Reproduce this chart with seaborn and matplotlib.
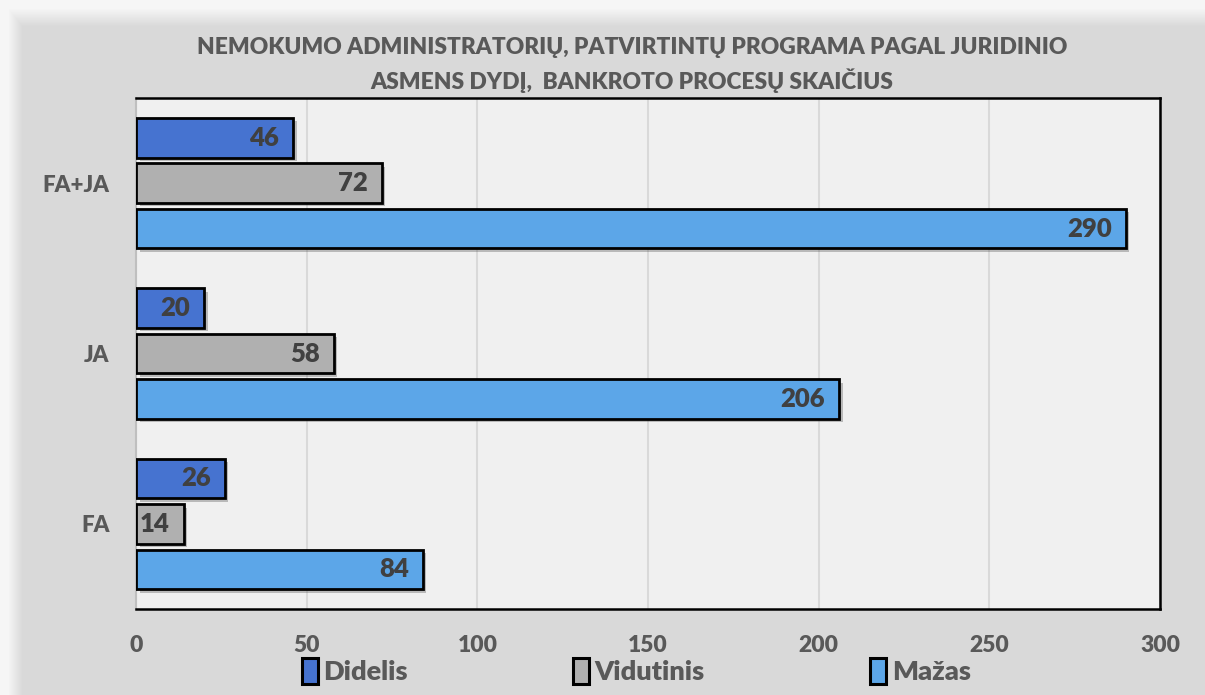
import numpy as np
import pandas as pd
import matplotlib
matplotlib.use("Agg")
import matplotlib.pyplot as plt
import matplotlib.patheffects as pe
from matplotlib.patches import Rectangle
import seaborn as sns

# ---- data ----
categories = ["FA+JA", "JA", "FA"]
series_names = ["Didelis", "Vidutinis", "Mažas"]
didelis = [46, 20, 26]
vidutinis = [72, 58, 14]
mazas = [290, 206, 84]
x_ticks = [0, 50, 100, 150, 200, 250, 300]
title = "NEMOKUMO ADMINISTRATORIŲ, PATVIRTINTŲ PROGRAMA PAGAL JURIDINIO\nASMENS DYDĮ,  BANKROTO PROCESŲ SKAIČIUS"

colors = ["#4673d0", "#b0b0b0", "#5ca6e8"]
text_gray = "#595959"
label_gray = "#404040"
W_HEAVY = "heavy"
FAM = ["Lato", "DejaVu Sans"]

df = pd.DataFrame({
    "cat": categories * 3,
    "series": [s for s in series_names for _ in categories],
    "value": didelis + vidutinis + mazas,
})

sns.set_theme(style="white")
plt.rcParams["font.family"] = FAM
plt.rcParams["font.weight"] = "bold"

fig = plt.figure(figsize=(12.05, 6.95), dpi=100)
fig.patch.set_facecolor("#d9d9d9")

# soft frame background
bg = fig.add_axes([0, 0, 1, 1], zorder=-10)
H, W = 695, 1205
yy, xx = np.mgrid[0:H, 0:W]
def fade(d, start, width):
    return np.clip((d - start) / width, 0, 1)
m = np.minimum(fade(yy, 8, 18), fade(xx, 8, 14))
img = 0.965 + (0.851 - 0.965) * m
bg.imshow(np.dstack([img, img, img]), extent=[0, W, H, 0], aspect="auto")
bg.set_xlim(0, W); bg.set_ylim(H, 0)
bg.axis("off")

ax = fig.add_axes([0.1129, 0.1237, 0.8498, 0.7353])
ax.set_facecolor("#f0f0f0")

sns.barplot(data=df, y="cat", x="value", hue="series", order=categories,
            hue_order=series_names, palette=colors, saturation=1, orient="h",
            width=0.8, gap=0.13, edgecolor="black", linewidth=2,
            ax=ax, legend=False, zorder=3)

shadow = [pe.SimplePatchShadow(offset=(2.5, -2.5), alpha=0.35, shadow_rgbFace="#555555"), pe.Normal()]
for p in ax.patches:
    p.set_path_effects(shadow)

for cont in ax.containers:
    texts = ax.bar_label(cont, padding=-10, fontsize=18.5, fontweight=W_HEAVY,
                         color=label_gray, family=FAM)
    for t in texts:
        t.set_ha("right")

ax.set_xlim(0, 300)
ax.set_xticks(x_ticks)
ax.set_xticklabels([str(v) for v in x_ticks])
ax.xaxis.grid(True, color="#d9d9d9", linewidth=1.5, zorder=0)
ax.set_axisbelow(True)
ax.set_xlabel("")
ax.set_ylabel("")
ax.tick_params(axis="x", length=0, pad=19, labelsize=16.5, labelcolor=text_gray)
ax.tick_params(axis="y", length=0, pad=19, labelsize=16, labelcolor=text_gray)
for lbl in ax.get_xticklabels() + ax.get_yticklabels():
    lbl.set_fontweight(W_HEAVY)

for s in ["top", "right", "bottom"]:
    ax.spines[s].set_color("black")
    ax.spines[s].set_linewidth(1.8)
    ax.spines[s].set_visible(True)
ax.spines["left"].set_color("#bfbfbf")
ax.spines["left"].set_linewidth(1.5)
ax.spines["left"].set_visible(True)

fig.text(0.5245, 0.906, title, ha="center", va="center", fontsize=16.4,
         fontweight=W_HEAVY, color=text_gray, linespacing=1.5, family=FAM)

handles = [Rectangle((0, 0), 1, 1, facecolor=c, edgecolor="black", linewidth=2.2)
           for c in colors]
leg = fig.legend(handles, series_names, loc="center", bbox_to_anchor=(0.528, 0.034),
                 ncol=3, frameon=False, fontsize=19.5, handlelength=0.6,
                 handleheight=1.05, handletextpad=0.2, columnspacing=6.1)
for t in leg.get_texts():
    t.set_color(text_gray)
    t.set_fontweight(W_HEAVY)

fig.savefig("out.png", dpi=100, facecolor=fig.get_facecolor())
